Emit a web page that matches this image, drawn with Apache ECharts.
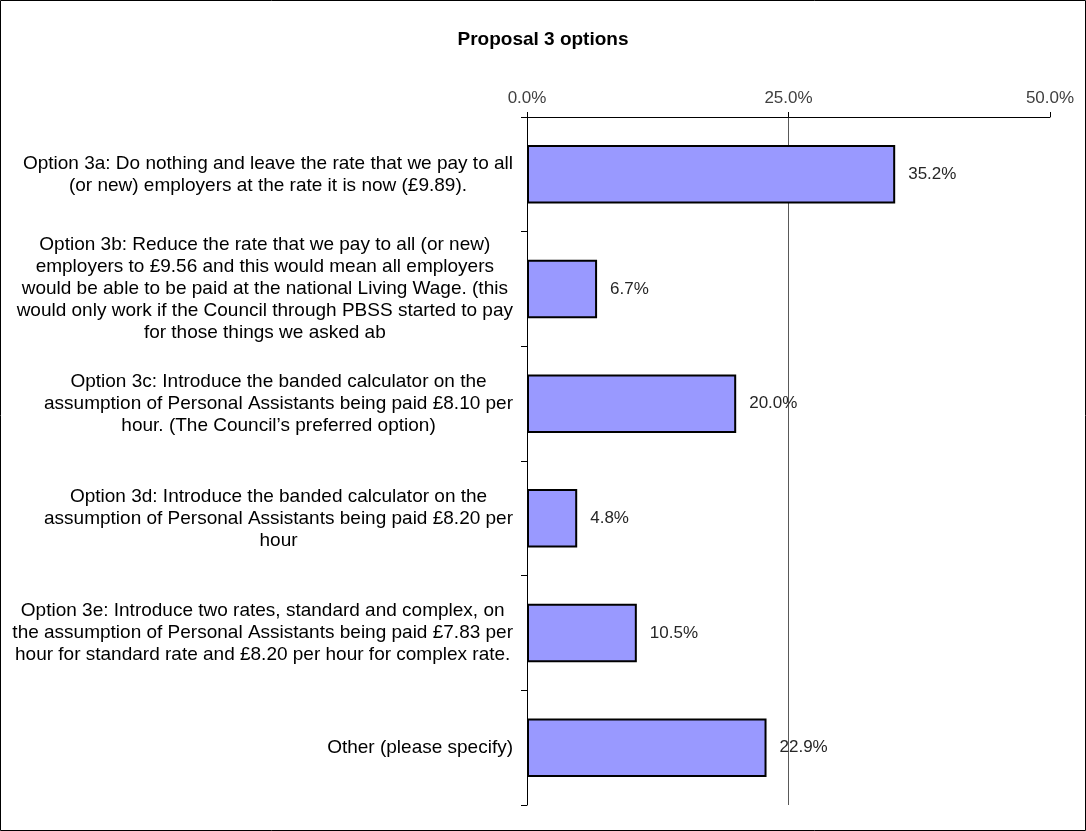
<!DOCTYPE html>
<html>
<head>
<meta charset="utf-8">
<script src="https://cdn.jsdelivr.net/npm/echarts@6/dist/echarts.min.js"></script>
<style>
  html, body { margin: 0; padding: 0; background: #fff; }
  #chart { width: 1086px; height: 831px; }
</style>
</head>
<body>
<div id="chart"></div>
<script>
// Response options for Proposal 3, with their wrapped label lines
const categories = [
  ['Option 3a: Do nothing and leave the rate that we pay to all',
   '(or new) employers at the rate it is now (£9.89).'],
  ['Option 3b: Reduce the rate that we pay to all (or new)',
   'employers to £9.56 and this would mean all employers',
   'would be able to be paid at the national Living Wage. (this',
   'would only work if the Council through PBSS started to pay',
   'for those things we asked ab'],
  ['Option 3c: Introduce the banded calculator on the',
   'assumption of Personal Assistants being paid £8.10 per',
   'hour. (The Council’s preferred option)'],
  ['Option 3d: Introduce the banded calculator on the',
   'assumption of Personal Assistants being paid £8.20 per',
   'hour'],
  ['Option 3e: Introduce two rates, standard and complex, on',
   'the assumption of Personal Assistants being paid £7.83 per',
   'hour for standard rate and £8.20 per hour for complex rate.'],
  ['Other (please specify)']
];

// Share of respondents choosing each option (%)
const shares = [35.2, 6.7, 20.0, 4.8, 10.5, 22.9];

// Value-axis ticks (%)
const tickValues = [0, 25, 50];

const categoryNames = categories.map(lines => lines.join('\n'));

const chart = echarts.init(document.getElementById('chart'), null, { renderer: 'canvas' });

const fontFamily = '"Liberation Sans", Arial, sans-serif';

chart.setOption({
  backgroundColor: '#ffffff',
  animation: false,
  title: {
    text: 'Proposal 3 options',
    left: 'center',
    top: 25,
    textStyle: { fontFamily, fontSize: 19, fontWeight: 'bold', color: '#000' }
  },
  graphic: [{
    type: 'rect',
    shape: { x: 0.5, y: 0.5, width: 1085, height: 830 },
    style: { fill: 'none', stroke: '#000', lineWidth: 1 },
    silent: true
  }],
  grid: { left: 527, right: 36, top: 117, bottom: 26, containLabel: false },
  xAxis: {
    type: 'value',
    position: 'top',
    min: tickValues[0],
    max: tickValues[tickValues.length - 1],
    interval: tickValues[1] - tickValues[0],
    axisLine: { show: true, lineStyle: { color: '#000', width: 1 } },
    axisTick: { show: true, length: 5, lineStyle: { color: '#000' } },
    axisLabel: {
      margin: 10,
      fontFamily, fontSize: 17, color: '#404040',
      formatter: v => v.toFixed(1) + '%'
    },
    splitLine: {
      show: true,
      lineStyle: { color: ['transparent', '#595959', 'transparent'], width: 1 }
    }
  },
  yAxis: {
    type: 'category',
    inverse: true,
    data: categoryNames,
    axisLine: { show: true, lineStyle: { color: '#000', width: 1 } },
    axisTick: { show: true, length: 6, lineStyle: { color: '#000' } },
    axisLabel: {
      margin: 14,
      align: 'right',
      fontFamily, fontSize: 19, color: '#000',
      lineHeight: 22,
      formatter: v => v.split('\n').map(l => '{c|' + l + '}').join('\n'),
      rich: {
        c: { align: 'center', fontFamily, fontSize: 19, color: '#000', lineHeight: 22 }
      }
    }
  },
  series: [{
    type: 'bar',
    data: shares,
    barWidth: '51%',
    itemStyle: { color: '#9999ff', borderColor: '#000', borderWidth: 2 },
    label: {
      show: true,
      position: 'right',
      distance: 13,
      fontFamily, fontSize: 17, color: '#262626',
      formatter: p => p.value.toFixed(1) + '%'
    }
  }]
});
</script>
</body>
</html>
